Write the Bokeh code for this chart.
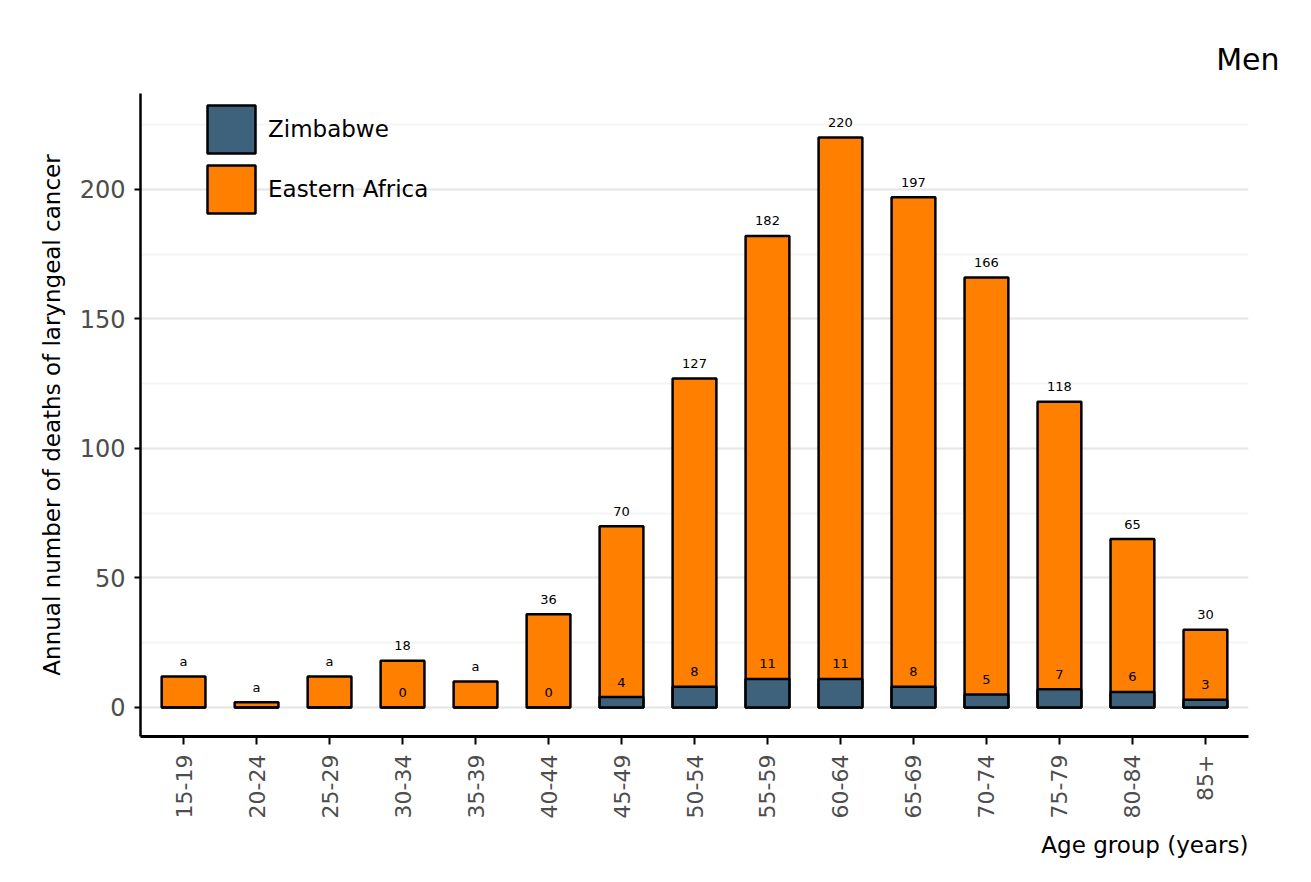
import math
from bokeh.plotting import figure
from bokeh.models import (ColumnDataSource, Range1d, FixedTicker, SingleIntervalTicker,
                          Title, Legend, LegendItem)
from bokeh.embed import file_html
from bokeh.resources import INLINE
from bokeh.core.properties import value

# ---- data ----
age_groups = ["15-19", "20-24", "25-29", "30-34", "35-39", "40-44", "45-49", "50-54",
              "55-59", "60-64", "65-69", "70-74", "75-79", "80-84", "85+"]
eastern_africa = [12, 2, 12, 18, 10, 36, 70, 127, 182, 220, 197, 166, 118, 65, 30]
zimbabwe = [0, 0, 0, 0, 0, 0, 4, 8, 11, 11, 8, 5, 7, 6, 3]
total_labels = ["a", "a", "a", "18", "a", "36", "70", "127", "182", "220", "197", "166", "118", "65", "30"]
zimbabwe_labels = ["", "", "", "0", "", "0", "4", "8", "11", "11", "8", "5", "7", "6", "3"]

FONT = "DejaVu Sans"
ORANGE = "#ff7f00"
BLUE = "#3f627c"
GRAY = "#4d4d4d"

xs = list(range(len(age_groups)))
src = ColumnDataSource(dict(x=xs, ea=eastern_africa, zw=zimbabwe,
                            tl=total_labels, zl=zimbabwe_labels))

p = figure(width=1298, height=874, output_backend="svg", toolbar_location=None,
           x_range=Range1d(-0.59, len(age_groups) - 1 + 0.59),
           y_range=Range1d(-11.2, 237),
           min_border_left=140, min_border_right=50, min_border_top=93,
           min_border_bottom=138)
p.outline_line_color = None
p.background_fill_color = "white"

ea_r = p.vbar(x="x", top="ea", bottom=0, width=0.6, source=src, fill_color=ORANGE,
              line_color="black", line_width=2.5)
zw_r = p.vbar(x="x", top="zw", bottom=0, width=0.6, source=src, fill_color=BLUE,
              line_color="black", line_width=2.5)

p.text(x="x", y="ea", text="tl", source=src, y_offset=-15, text_align="center",
       text_baseline="middle", text_font=value(FONT), text_font_size="13px",
       text_color="black")
p.text(x="x", y="zw", text="zl", source=src, y_offset=-15, text_align="center",
       text_baseline="middle", text_font=value(FONT), text_font_size="13px",
       text_color="black")

# x axis
xa = p.xaxis[0]
xa.ticker = FixedTicker(ticks=xs)
xa.major_label_overrides = {i: g for i, g in zip(xs, age_groups)}
xa.major_label_orientation = math.pi / 2
xa.major_label_text_font = FONT
xa.major_label_text_font_size = "22px"
xa.major_label_text_color = GRAY
xa.major_label_standoff = 10
xa.axis_line_color = "black"
xa.axis_line_width = 3
xa.major_tick_in = 0
xa.major_tick_out = 8
xa.major_tick_line_width = 2
xa.major_tick_line_color = "black"
xa.minor_tick_line_color = None

# y axis
ya = p.yaxis[0]
ya.ticker = SingleIntervalTicker(interval=50, num_minor_ticks=2)
ya.major_label_text_font = FONT
ya.major_label_text_font_size = "24px"
ya.major_label_text_color = GRAY
ya.major_label_standoff = 9
ya.axis_line_color = "black"
ya.axis_line_width = 2.5
ya.major_tick_in = 0
ya.major_tick_out = 6
ya.major_tick_line_width = 2
ya.major_tick_line_color = "black"
ya.minor_tick_line_color = None
ya.axis_label = "Annual number of deaths of laryngeal cancer"
ya.axis_label_text_font = FONT
ya.axis_label_text_font_size = "23px"
ya.axis_label_text_font_style = "normal"
ya.axis_label_text_color = "black"
ya.axis_label_standoff = 12

p.xgrid.grid_line_color = None
p.ygrid.grid_line_color = "#e6e6e6"
p.ygrid.grid_line_width = 2
p.ygrid.minor_grid_line_color = "#f5f5f5"
p.ygrid.minor_grid_line_width = 2

legend = Legend(items=[LegendItem(label="Zimbabwe", renderers=[zw_r]),
                       LegendItem(label="Eastern Africa", renderers=[ea_r])],
                location=(61, 517), glyph_width=60, glyph_height=60, spacing=0,
                padding=0, margin=0, label_standoff=7, label_text_font=FONT,
                label_text_font_size="23px", label_text_color="black",
                border_line_color=None, background_fill_alpha=0)
p.add_layout(legend)

p.title.text = "Men"
p.title.align = "right"
p.title.offset = -31
p.title.standoff = 33
p.title.text_font = FONT
p.title.text_font_size = "30px"
p.title.text_font_style = "normal"
p.title.text_color = "black"

p.add_layout(Title(text="Age group (years)", align="right", standoff=17,
                   text_font=FONT, text_font_size="23px", text_font_style="normal",
                   text_color="black"), "below")

open("out.html", "w").write(file_html(p, INLINE))
